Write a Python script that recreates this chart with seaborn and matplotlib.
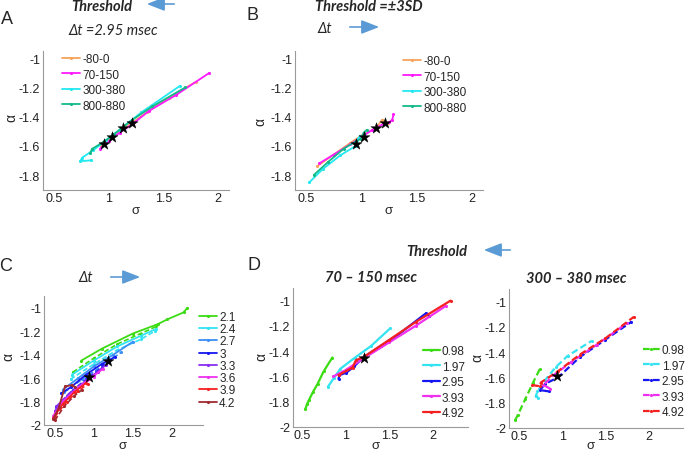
import numpy as np
import pandas as pd
import matplotlib
matplotlib.use('Agg')
import matplotlib.pyplot as plt
from matplotlib.patches import FancyArrowPatch
import seaborn as sns

# ---- Panel A: threshold varied, dt = 2.95 msec ----
a_labels = ['-80-0', '70-150', '300-380', '800-880']
a_sigma = [
    [0.93, 1.0, 1.1, 1.2, 1.35, 1.55, 1.8],
    [0.92, 1.0, 1.1, 1.22, 1.37, 1.62, 1.92],
    [0.835, 0.74, 0.76, 0.86, 0.98, 1.1, 1.3, 1.65],
    [0.83, 0.85, 0.95, 1.05, 1.2, 1.4, 1.70],
]
a_alpha = [
    [-1.60, -1.555, -1.50, -1.45, -1.37, -1.27, -1.16],
    [-1.62, -1.57, -1.51, -1.45, -1.36, -1.25, -1.10],
    [-1.70, -1.705, -1.68, -1.63, -1.56, -1.49, -1.37, -1.19],
    [-1.65, -1.62, -1.575, -1.52, -1.43, -1.33, -1.20],
]
a_star_sigma = [0.954, 1.03, 1.13, 1.21]
a_star_alpha = [-1.59, -1.54, -1.48, -1.445]

# ---- Panel B: threshold = +-3SD, dt varied ----
b_sigma = [
    [0.60, 0.75, 0.9, 1.0, 1.13, 1.19, 1.24],
    [0.62, 0.75, 0.9, 1.0, 1.1, 1.2, 1.25, 1.28, 1.29],
    [0.53, 0.65, 0.81, 0.95, 0.96, 0.99],
    [0.57, 0.70, 0.84, 0.95, 1.0, 1.02, 1.05],
]
b_alpha = [
    [-1.74, -1.66, -1.58, -1.53, -1.48, -1.42, -1.445],
    [-1.72, -1.66, -1.59, -1.54, -1.49, -1.45, -1.44, -1.42, -1.385],
    [-1.85, -1.76, -1.665, -1.60, -1.56, -1.53],
    [-1.80, -1.71, -1.62, -1.57, -1.55, -1.51, -1.49],
]
b_star_sigma = [0.955, 1.02, 1.13, 1.21]
b_star_alpha = [-1.59, -1.54, -1.48, -1.445]

# ---- Panel C: dt varied (solid / dashed windows) ----
c_labels = ['2.1', '2.4', '2.7', '3', '3.3', '3.6', '3.9', '4.2']
c_sigma_solid = [
    [0.84, 1.1, 1.5, 1.82, 1.94, 2.15, 2.2],
    [0.72, 1.0, 1.3, 1.6, 1.8],
    [0.6, 0.8, 1.0, 1.25, 1.5],
    [0.58, 0.7, 0.9, 1.1, 1.27],
    [0.5, 0.65, 0.85, 1.0, 1.15],
    [0.48, 0.6, 0.8, 1.0, 1.12],
    [0.48, 0.6, 0.75, 0.9],
    [0.48, 0.55, 0.63, 0.72, 0.76],
]
c_alpha_solid = [
    [-1.45, -1.35, -1.22, -1.14, -1.10, -1.04, -1.0],
    [-1.57, -1.45, -1.33, -1.24, -1.18],
    [-1.70, -1.60, -1.50, -1.40, -1.29],
    [-1.73, -1.68, -1.57, -1.48, -1.42],
    [-1.88, -1.76, -1.65, -1.57, -1.49],
    [-1.92, -1.80, -1.68, -1.58, -1.52],
    [-1.94, -1.82, -1.72, -1.64],
    [-1.95, -1.85, -1.67, -1.66, -1.68],
]
c_sigma_dash = [
    [0.73, 1.0, 1.3, 1.6, 1.8],
    [0.7, 1.0, 1.3, 1.6, 1.78],
    [0.62, 0.85, 1.1, 1.35],
    [0.52, 0.7, 0.9, 1.1, 1.2],
    [0.52, 0.7, 0.9, 1.05],
    [0.5, 0.65, 0.85, 1.0],
    [0.5, 0.65, 0.8, 0.92],
    [0.5, 0.62, 0.75, 0.85],
]
c_alpha_dash = [
    [-1.55, -1.43, -1.31, -1.22, -1.16],
    [-1.61, -1.48, -1.36, -1.27, -1.20],
    [-1.72, -1.61, -1.50, -1.38],
    [-1.85, -1.72, -1.61, -1.51, -1.46],
    [-1.84, -1.72, -1.62, -1.55],
    [-1.90, -1.77, -1.66, -1.59],
    [-1.93, -1.80, -1.71, -1.65],
    [-1.96, -1.84, -1.75, -1.70],
]
c_star_sigma = [0.94, 1.18]
c_star_alpha = [-1.59, -1.45]

# ---- Panel D: threshold varied for two windows ----
d_labels = ['0.98', '1.97', '2.95', '3.93', '4.92']
d1_sigma = [
    [0.54, 0.56, 0.58, 0.63, 0.68, 0.75, 0.85],
    [0.80, 0.87, 0.94, 1.11, 1.29, 1.51],
    [0.92, 0.93, 1.01, 1.1, 1.2, 1.4, 1.6, 1.92, 1.95],
    [0.86, 1.0, 1.2, 1.5, 1.8, 2.15],
    [0.92, 1.08, 1.12, 1.2, 1.5, 1.8, 2.2],
]
d1_alpha = [
    [-1.86, -1.82, -1.79, -1.72, -1.66, -1.56, -1.45],
    [-1.68, -1.61, -1.54, -1.45, -1.36, -1.22],
    [-1.62, -1.59, -1.57, -1.52, -1.45, -1.36, -1.27, -1.10, -1.12],
    [-1.60, -1.55, -1.46, -1.33, -1.20, -1.04],
    [-1.59, -1.53, -1.47, -1.45, -1.31, -1.17, -1.0],
]
d1_star_sigma = [1.21]
d1_star_alpha = [-1.45]
d2_sigma = [
    [0.45, 0.48, 0.57, 0.66, 0.74],
    [0.72, 0.69, 0.71, 0.8, 0.92, 1.06, 1.34],
    [0.84, 0.74, 0.8, 0.95, 1.2, 1.5, 1.8],
    [0.86, 0.78, 0.9, 1.1, 1.4, 1.75],
    [0.65, 0.74, 0.75, 0.95, 1.2, 1.5, 1.83],
]
d2_alpha = [
    [-1.94, -1.90, -1.77, -1.64, -1.53],
    [-1.76, -1.75, -1.71, -1.62, -1.52, -1.43, -1.31],
    [-1.71, -1.70, -1.65, -1.60, -1.44, -1.30, -1.16],
    [-1.69, -1.66, -1.58, -1.48, -1.34, -1.17],
    [-1.66, -1.67, -1.64, -1.55, -1.42, -1.29, -1.12],
]
d2_star_sigma = [0.94]
d2_star_alpha = [-1.59]

ab_colors = ['#f7a35c', '#ff1aff', '#22e8f0', '#14b98a']
c_colors = ['#3cdc14', '#33e3f2', '#3a8ef5', '#1616f0', '#8a2cf0', '#f030f0', '#f52020', '#a02a30']
d_colors = ['#3cdc14', '#33e3f2', '#1616f0', '#f030f0', '#f52020']

sns.set_style('white')
plt.rcParams['font.family'] = ['Liberation Sans', 'DejaVu Sans']
TITLE_FONT = ['Lato', 'DejaVu Sans']
ARROW_COL = '#5b9bd5'

W, H = 685, 452
fig = plt.figure(figsize=(W / 100, H / 100), dpi=100)


def px_axes(l, r, t, b):
    return fig.add_axes([l / W, 1 - b / H, (r - l) / W, (b - t) / H])


def ftext(x, y, s, **kw):
    fig.text(x / W, 1 - y / H, s, ha='center', va='center', **kw)


def arrow(x0, x1, y):
    p = FancyArrowPatch((x0 / W, 1 - y / H), (x1 / W, 1 - y / H),
                        transform=fig.transFigure, arrowstyle='-|>,head_length=0.9,head_width=0.35',
                        mutation_scale=12, color=ARROW_COL, lw=1.2)
    fig.add_artist(p)


def draw(ax, xs, ys, color, label=None, ls='-', lw=1.3):
    df = pd.DataFrame({'sigma': xs, 'alpha': ys})
    sns.lineplot(data=df, x='sigma', y='alpha', ax=ax, color=color, sort=False,
                 estimator=None, marker='.', markersize=4.5, markeredgewidth=0,
                 linewidth=lw, linestyle=ls, label=label)


def stars(ax, xs, ys):
    sns.scatterplot(x=xs, y=ys, ax=ax, marker='*', s=70, color='black',
                    edgecolor='black', linewidth=0.3, zorder=5)


def style_axes(ax, xlim, ylim, yticks, ylabels):
    ax.set_xlim(*xlim)
    ax.set_ylim(*ylim)
    ax.set_xticks([0.5, 1, 1.5, 2])
    ax.set_xticklabels(['0.5', '1', '1.5', '2'])
    ax.set_yticks(yticks)
    ax.set_yticklabels(ylabels)
    ax.set_xlabel('')
    ax.set_ylabel('')
    sns.despine(ax=ax)
    for s in ['left', 'bottom']:
        ax.spines[s].set_color('#9a9a9a')
        ax.spines[s].set_linewidth(0.8)
    ax.tick_params(direction='in', length=2.5, width=0.6, color='#9a9a9a',
                   labelsize=9, labelcolor='#222222', pad=2)
    ax.tick_params(axis='x', pad=1.5)
    ax.set_facecolor('white')


def legend_at(ax, x, y, fs, hl, spacing):
    ax.legend(loc='upper left', bbox_to_anchor=(x / W, 1 - y / H),
              bbox_transform=fig.transFigure, frameon=False, fontsize=fs,
              handlelength=hl, handletextpad=0.2, labelspacing=spacing,
              borderpad=0, borderaxespad=0)


yt_ab = [-1.8, -1.6, -1.4, -1.2, -1.0]
yl_ab = ['-1.8', '-1.6', '-1.4', '-1.2', '-1']
yt_cd = [-2.0, -1.8, -1.6, -1.4, -1.2, -1.0]
yl_cd = ['-2', '-1.8', '-1.6', '-1.4', '-1.2', '-1']

# Panel A
axA = px_axes(43, 229, 52, 190.6)
for xs, ys, col, lab in zip(a_sigma, a_alpha, ab_colors, a_labels):
    draw(axA, xs, ys, col, lab)
stars(axA, a_star_sigma, a_star_alpha)
style_axes(axA, (0.4, 2.1), (-1.9, -0.95), yt_ab, yl_ab)
legend_at(axA, 62, 54, 8.5, 1.5, 0.3)

# Panel B
axB = px_axes(295, 483, 52, 190.6)
for xs, ys, col, lab in zip(b_sigma, b_alpha, ab_colors, a_labels):
    draw(axB, xs, ys, col, lab)
stars(axB, b_star_sigma, b_star_alpha)
style_axes(axB, (0.4, 2.1), (-1.9, -0.95), yt_ab, yl_ab)
legend_at(axB, 403, 56, 8.5, 1.5, 0.3)

# Panel C
axC = px_axes(44, 203, 297, 426)
for xs, ys, col in zip(c_sigma_dash, c_alpha_dash, c_colors):
    draw(axC, xs, ys, col, None, ls=(0, (3, 1.5)), lw=1.2)
for xs, ys, col, lab in zip(c_sigma_solid, c_alpha_solid, c_colors, c_labels):
    draw(axC, xs, ys, col, lab, lw=1.3)
stars(axC, c_star_sigma, c_star_alpha)
style_axes(axC, (0.36, 2.4), (-2.0, -0.9), yt_cd, yl_cd)
legend_at(axC, 199, 312, 8.5, 1.5, 0.02)

# Panel D1
axD1 = px_axes(293, 468, 289, 428)
for xs, ys, col, lab in zip(d1_sigma, d1_alpha, d_colors, d_labels):
    draw(axD1, xs, ys, col, lab, lw=1.6)
stars(axD1, d1_star_sigma, d1_star_alpha)
style_axes(axD1, (0.4, 2.4), (-2.0, -0.9), yt_cd, yl_cd)
legend_at(axD1, 423, 346, 8.5, 1.4, 0.3)

# Panel D2
axD2 = px_axes(509, 683, 290, 429)
for xs, ys, col, lab in zip(d2_sigma, d2_alpha, d_colors, d_labels):
    draw(axD2, xs, ys, col, lab, ls=(0, (3, 1.5)), lw=1.6)
stars(axD2, d2_star_sigma, d2_star_alpha)
style_axes(axD2, (0.38, 2.4), (-2.0, -0.9), yt_cd, yl_cd)
legend_at(axD2, 643, 345, 8.5, 1.4, 0.3)

# axis labels
for x, y in [(136, 211), (389, 211), (123, 446), (376, 446), (591, 446)]:
    ftext(x, y, '\u03c3', fontsize=9.5)
for x, y in [(11, 118), (260, 122), (8, 357), (261, 357), (477, 358)]:
    ftext(x, y, '\u03b1', fontsize=10, rotation=90)

# panel letters
for x, y, s in [(7, 20, 'A'), (253, 16, 'B'), (6, 267, 'C'), (254, 266, 'D')]:
    ftext(x, y, s, fontsize=13)

# headers
ftext(102, 7, 'Threshold', fontsize=10.5, fontweight='bold', fontstyle='italic', family=TITLE_FONT)
ftext(113, 31, '\u0394t =2.95 msec', fontsize=10.5, fontstyle='italic', family=TITLE_FONT)
ftext(369, 7, 'Threshold =\u00b13SD', fontsize=10.5, fontweight='bold', fontstyle='italic', family=TITLE_FONT)
ftext(325, 29, '\u0394t', fontsize=10.5, fontstyle='italic', family=TITLE_FONT)
ftext(86, 278, '\u0394t', fontsize=10.5, fontstyle='italic', family=TITLE_FONT)
ftext(437, 252, 'Threshold', fontsize=10.5, fontweight='bold', fontstyle='italic', family=TITLE_FONT)
ftext(371, 278, '70 \u2013 150 msec', fontsize=10.5, fontweight='bold', fontstyle='italic', family=TITLE_FONT)
ftext(576, 279, '300 \u2013 380 msec', fontsize=10.5, fontweight='bold', fontstyle='italic', family=TITLE_FONT)

arrow(177, 144, 5)
arrow(347, 382, 28)
arrow(108, 143, 278)
arrow(513, 481, 251)

fig.savefig('out.png', dpi=100)
